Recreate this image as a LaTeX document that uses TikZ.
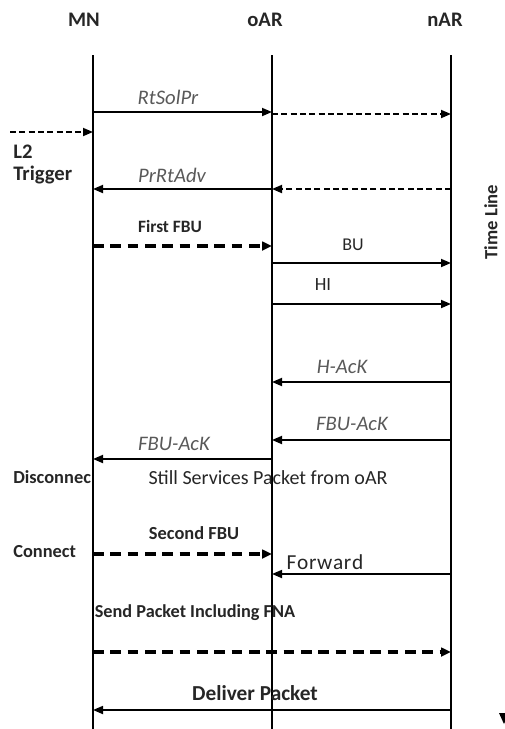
\documentclass[tikz,border=0pt]{standalone}
\usepackage{fontspec}
\setmainfont{Carlito}
\usetikzlibrary{arrows.meta}
\begin{document}
\begin{tikzpicture}[x=0.75pt,y=-0.75pt,
  life/.style={line width=1.4pt},
  msg/.style={line width=1.3pt,-{Triangle[length=7.5pt,width=6pt]}},
  dmsg/.style={msg,dash pattern=on 4.5pt off 2.5pt},
  tmsg/.style={line width=2.7pt,-{Triangle[length=7.5pt,width=6.5pt]},dash pattern=on 8pt off 5pt},
  hdr/.style={font=\bfseries\fontsize{15.5}{17}\selectfont,text=black!85},
  ital/.style={font=\itshape\fontsize{15.5}{17}\selectfont,text=black!65},
  bl/.style={font=\bfseries\fontsize{13}{15}\selectfont,text=black!85},
  side/.style={font=\bfseries\fontsize{13.8}{15}\selectfont,text=black!85,anchor=west,inner sep=0pt}]
\useasboundingbox (0,0) rectangle (505,729);
% headers
\node[hdr] (hMN) at (84,20) {MN};
\node[hdr] (hoAR) at (265,20) {oAR};
\node[hdr] (hnAR) at (445,20) {nAR};
% lifelines
\coordinate (MNt) at (93,55); \coordinate (MNb) at (93,729);
\coordinate (oARt) at (272,55); \coordinate (oARb) at (272,729);
\coordinate (nARt) at (451,55); \coordinate (nARb) at (451,729);
\draw[life] (MNt) -- (MNb);
\draw[life] (oARt) -- (oARb);
\draw[life] (nARt) -- (nARb);
% helpers for message ends
\foreach \n/\x in {MN/93,oAR/272,nAR/451}{
  \foreach \y in {112,114,189,246,263,304,382,440,459,554,574,652,710}{
    \coordinate (\n\y) at (\x,\y);
  }
}
% RtSolPr
\node[ital] (lRt) at (168,97) {RtSolPr};
\draw[msg] (MN112) -- (oAR112);
\draw[dmsg] (oAR114) -- (nAR114);
% L2 trigger
\coordinate (L2s) at (10,132);
\coordinate (L2e) at (93,132);
\draw[dmsg] (L2s) -- (L2e);
\node[side,font=\bfseries\fontsize{15.5}{17}\selectfont] (lL2) at (13,152) {L2};
\node[side,font=\bfseries\fontsize{15.5}{17}\selectfont] (lTrig) at (13,175) {Trigger};
% PrRtAdv
\node[ital] (lPr) at (172,175) {PrRtAdv};
\draw[msg] (oAR189) -- (MN189);
\draw[dmsg] (nAR189) -- (oAR189);
% First FBU
\node[bl] (lF1) at (170,226) {First FBU};
\draw[tmsg] (MN246) -- (oAR246);
% BU
\node[font=\fontsize{13.5}{15}\selectfont,text=black!85] (lBU) at (353,245) {BU};
\draw[msg] (oAR263) -- (nAR263);
% HI
\node[font=\fontsize{14}{15}\selectfont,text=black!85] (lHI) at (323,285) {HI};
\draw[msg] (oAR304) -- (nAR304);
% H-AcK
\node[ital] (lHA) at (342,367) {H-AcK};
\draw[msg] (nAR382) -- (oAR382);
% FBU-AcK
\node[ital] (lFA1) at (352,424) {FBU-AcK};
\draw[msg] (nAR440) -- (oAR440);
\node[ital] (lFA2) at (174,444) {FBU-AcK};
\draw[msg] (oAR459) -- (MN459);
% Disconnect
\node[side] (lDis) at (13,477) {Disconnec};
\node[font=\fontsize{15}{17}\selectfont,text=black!85] (lStill) at (268,478) {Still Services Packet from oAR};
% Second FBU
\node[bl,font=\bfseries\fontsize{13.8}{15}\selectfont] (lF2) at (194,533) {Second FBU};
\node[side] (lCon) at (13,552) {Connect};
\draw[tmsg] (MN554) -- (oAR554);
% Forward
\node[font=\fontsize{16}{18}\selectfont,text=black!85] (lFw) at (325,562) {F\kern0.5pt o\kern0.5pt r\kern0.5pt w\kern0.5pt a\kern0.5pt r\kern0.5pt d};
\draw[msg] (nAR574) -- (oAR574);
% Send packet
\node[bl,font=\bfseries\fontsize{13.7}{15}\selectfont] (lSend) at (195,613) {Send Packet Including FNA};
\draw[tmsg] (MN652) -- (nAR652);
% Deliver packet
\node[font=\bfseries\fontsize{16}{18}\selectfont,text=black!85] (lDel) at (255,693) {Deliver Packet};
\draw[msg] (nAR710) -- (MN710);
% Time line
\node[font=\bfseries\fontsize{14}{16}\selectfont,text=black!85,rotate=90] (lTL) at (491,222) {Time Line};
\coordinate (tlA) at (499,713);
\coordinate (tlB) at (509,713);
\coordinate (tlC) at (504,724);
\fill (tlA) -- (tlB) -- (tlC) -- cycle;
\end{tikzpicture}
\end{document}
